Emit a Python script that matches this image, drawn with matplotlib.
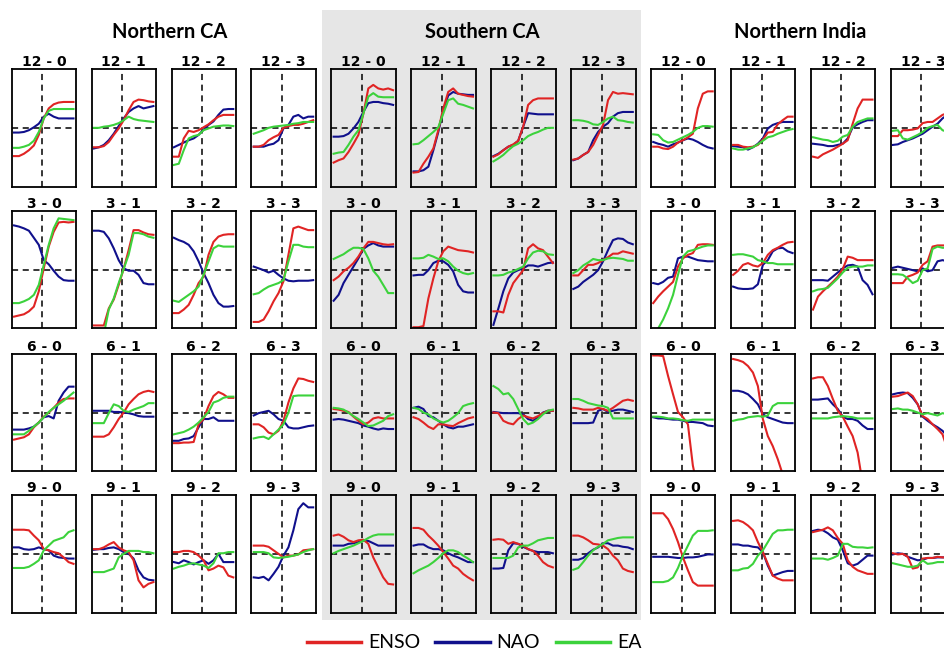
import matplotlib
matplotlib.use("Agg")
import matplotlib.pyplot as plt
from matplotlib.patches import Rectangle
from matplotlib.lines import Line2D
import numpy as np

regions = ["Northern CA", "Southern CA", "Northern India"]
row_labels = ["12", "3", "6", "9"]
col_labels = ["0", "1", "2", "3"]
series_names = ["ENSO", "NAO", "EA"]
x_vals = [-1.0, -0.833, -0.667, -0.5, -0.333, -0.167, 0.0, 0.167, 0.333, 0.5, 0.667, 0.833, 1.0]

# Panels are ordered 12-0, 12-1, 12-2, 12-3, 3-0, ..., 9-3
nca_enso = [
    [-0.48,-0.48,-0.44,-0.38,-0.30,-0.12,0.16,0.33,0.40,0.43,0.44,0.44,0.44],
    [-0.33,-0.33,-0.31,-0.24,-0.12,-0.01,0.13,0.30,0.44,0.48,0.47,0.45,0.44],
    [-0.49,-0.49,-0.18,-0.05,-0.07,-0.04,0.01,0.06,0.13,0.19,0.22,0.22,0.22],
    [-0.32,-0.32,-0.29,-0.21,-0.16,-0.12,0.0,0.03,0.05,0.05,0.07,0.10,0.13],
    [-0.80,-0.78,-0.76,-0.71,-0.63,-0.37,0.02,0.39,0.64,0.80,0.81,0.80,0.81],
    [-0.95,-0.95,-0.95,-0.66,-0.51,-0.26,0.01,0.33,0.67,0.67,0.63,0.60,0.59],
    [-0.74,-0.74,-0.68,-0.60,-0.43,-0.23,-0.12,0.25,0.47,0.56,0.59,0.60,0.60],
    [-0.89,-0.89,-0.85,-0.71,-0.54,-0.40,-0.20,0.25,0.70,0.73,0.70,0.67,0.67],
    [-0.46,-0.44,-0.42,-0.37,-0.25,-0.17,-0.07,0.0,0.08,0.17,0.23,0.24,0.24],
    [-0.41,-0.41,-0.41,-0.37,-0.25,-0.11,0.0,0.14,0.23,0.31,0.35,0.37,0.35],
    [-0.52,-0.52,-0.51,-0.51,-0.50,-0.20,-0.11,0.11,0.28,0.35,0.31,0.25,0.25],
    [-0.20,-0.20,-0.25,-0.34,-0.37,-0.31,-0.14,0.17,0.41,0.58,0.57,0.54,0.52],
    [0.41,0.41,0.41,0.40,0.31,0.23,0.08,0.06,0.03,0.01,-0.06,-0.14,-0.17],
    [0.08,0.08,0.11,0.16,0.20,0.11,0.06,0.03,-0.11,-0.45,-0.57,-0.51,-0.48],
    [0.03,0.03,0.05,0.05,0.03,-0.03,-0.11,-0.28,-0.25,-0.20,-0.23,-0.37,-0.40],
    [0.14,0.14,0.14,0.12,0.06,0.0,-0.06,-0.03,-0.03,-0.01,0.06,0.07,0.08],
]
nca_nao = [
    [-0.08,-0.08,-0.07,-0.04,0.01,0.07,0.19,0.24,0.19,0.16,0.16,0.16,0.16],
    [-0.35,-0.33,-0.29,-0.21,-0.10,0.03,0.16,0.27,0.33,0.37,0.33,0.35,0.37],
    [-0.33,-0.29,-0.25,-0.21,-0.18,-0.12,-0.03,0.05,0.11,0.22,0.31,0.32,0.32],
    [-0.32,-0.32,-0.32,-0.29,-0.27,-0.21,-0.01,0.05,0.19,0.22,0.16,0.19,0.19],
    [0.75,0.73,0.70,0.66,0.54,0.42,0.16,0.09,-0.02,-0.12,-0.18,-0.19,-0.19],
    [0.66,0.66,0.64,0.53,0.36,0.16,0.02,-0.02,-0.02,-0.09,-0.23,-0.25,-0.25],
    [0.54,0.50,0.47,0.42,0.31,0.14,-0.06,-0.23,-0.43,-0.57,-0.63,-0.63,-0.62],
    [0.05,0.02,-0.01,-0.05,-0.02,-0.09,-0.15,-0.19,-0.20,-0.19,-0.19,-0.19,-0.18],
    [-0.29,-0.29,-0.29,-0.27,-0.24,-0.17,-0.08,-0.06,-0.10,0.20,0.34,0.44,0.44],
    [0.03,0.03,0.03,0.03,0.01,0.01,0.0,-0.01,-0.03,-0.06,-0.07,-0.07,-0.07],
    [-0.48,-0.48,-0.45,-0.44,-0.40,-0.25,-0.11,-0.11,-0.08,-0.14,-0.14,-0.14,-0.14],
    [-0.05,-0.01,0.01,0.03,-0.03,-0.11,-0.14,-0.25,-0.27,-0.27,-0.25,-0.23,-0.22],
    [0.11,0.11,0.08,0.07,0.08,0.11,0.08,0.06,-0.03,-0.06,-0.07,-0.08,-0.08],
    [0.07,0.08,0.08,0.10,0.11,0.08,0.03,0.0,-0.08,-0.28,-0.40,-0.44,-0.45],
    [-0.14,-0.16,-0.11,-0.14,-0.18,-0.14,-0.11,-0.17,-0.11,0.0,-0.14,-0.14,-0.14],
    [-0.40,-0.41,-0.39,-0.45,-0.34,-0.22,-0.03,0.11,0.40,0.76,0.86,0.79,0.79],
]
nca_ea = [
    [-0.34,-0.34,-0.32,-0.29,-0.22,-0.07,0.16,0.29,0.32,0.32,0.32,0.32,0.32],
    [0.0,0.0,0.02,0.03,0.05,0.08,0.13,0.19,0.15,0.13,0.12,0.11,0.10],
    [-0.63,-0.61,-0.38,-0.18,-0.14,-0.12,-0.04,-0.01,0.02,0.03,0.04,0.04,0.03],
    [-0.10,-0.07,-0.04,0.0,0.02,0.03,0.04,0.05,0.07,0.08,0.10,0.10,0.10],
    [-0.57,-0.57,-0.54,-0.50,-0.43,-0.26,0.08,0.42,0.70,0.87,0.86,0.85,0.84],
    [-1.2,-1.2,-1.1,-0.68,-0.49,-0.23,0.01,0.25,0.62,0.62,0.60,0.56,0.54],
    [-0.53,-0.55,-0.49,-0.43,-0.37,-0.29,-0.09,0.14,0.36,0.41,0.39,0.39,0.39],
    [-0.42,-0.40,-0.34,-0.29,-0.26,-0.23,-0.18,0.14,0.42,0.42,0.39,0.38,0.38],
    [-0.37,-0.37,-0.37,-0.31,-0.24,-0.17,-0.08,0.01,0.08,0.14,0.20,0.27,0.34],
    [-0.18,-0.18,-0.18,-0.01,0.14,0.11,0.03,0.01,0.05,0.08,0.11,0.16,0.16],
    [-0.37,-0.35,-0.33,-0.29,-0.24,-0.17,-0.08,0.01,0.17,0.20,0.25,0.27,0.27],
    [-0.44,-0.42,-0.41,-0.45,-0.37,-0.29,-0.20,0.0,0.28,0.29,0.29,0.29,0.29],
    [-0.24,-0.24,-0.24,-0.22,-0.17,-0.11,0.06,0.14,0.22,0.25,0.28,0.37,0.40],
    [-0.31,-0.31,-0.31,-0.28,-0.25,-0.06,0.0,0.05,0.05,0.05,0.03,0.03,0.01],
    [-0.25,-0.22,-0.20,-0.17,-0.16,-0.18,-0.20,-0.24,-0.16,0.01,0.01,0.03,0.03],
    [0.03,0.03,0.03,0.01,-0.06,-0.07,-0.06,-0.05,-0.03,-0.01,0.03,0.06,0.08],
]

sca_enso = [
    [-0.59,-0.55,-0.52,-0.41,-0.27,-0.12,0.24,0.67,0.73,0.67,0.65,0.67,0.64],
    [-0.76,-0.75,-0.61,-0.49,-0.35,-0.04,0.33,0.61,0.67,0.58,0.56,0.54,0.53],
    [-0.49,-0.45,-0.38,-0.32,-0.28,-0.22,0.02,0.39,0.47,0.50,0.50,0.50,0.50],
    [-0.54,-0.52,-0.46,-0.41,-0.29,-0.12,0.05,0.47,0.61,0.58,0.59,0.58,0.57],
    [-0.18,-0.12,-0.03,0.03,0.11,0.22,0.36,0.47,0.47,0.45,0.43,0.42,0.43],
    [-0.98,-0.98,-0.96,-0.49,-0.15,0.14,0.31,0.39,0.36,0.33,0.32,0.31,0.29],
    [-0.71,-0.71,-0.73,-0.43,-0.23,-0.12,-0.01,0.36,0.43,0.36,0.33,0.22,0.11],
    [-0.10,-0.10,-0.01,0.08,0.08,0.11,0.16,0.21,0.27,0.27,0.31,0.29,0.27],
    [0.06,0.05,0.03,0.01,-0.07,-0.14,-0.20,-0.17,-0.10,-0.08,-0.10,-0.10,-0.10],
    [-0.08,-0.11,-0.17,-0.24,-0.28,-0.20,-0.20,-0.22,-0.23,-0.18,-0.14,-0.10,-0.08],
    [0.0,-0.01,-0.14,-0.18,-0.20,-0.11,-0.05,-0.08,-0.10,-0.06,-0.01,0.03,0.03],
    [0.08,0.07,0.05,0.05,0.05,0.08,0.06,0.03,0.08,0.14,0.20,0.22,0.20],
    [0.31,0.33,0.29,0.23,0.20,0.23,0.24,0.17,-0.06,-0.23,-0.40,-0.51,-0.52],
    [0.44,0.44,0.41,0.31,0.23,0.14,0.03,-0.08,-0.20,-0.25,-0.34,-0.40,-0.45],
    [0.24,0.25,0.24,0.17,0.20,0.17,0.14,0.08,0.05,-0.03,-0.14,-0.20,-0.23],
    [0.31,0.31,0.28,0.23,0.17,0.16,0.14,0.08,-0.03,-0.11,-0.25,-0.29,-0.31],
]
sca_nao = [
    [-0.15,-0.15,-0.14,-0.10,-0.01,0.10,0.27,0.42,0.44,0.44,0.42,0.41,0.39],
    [-0.74,-0.74,-0.72,-0.66,-0.38,-0.07,0.30,0.55,0.61,0.58,0.57,0.56,0.56],
    [-0.48,-0.44,-0.38,-0.32,-0.29,-0.22,0.02,0.25,0.24,0.23,0.23,0.23,0.23],
    [-0.55,-0.52,-0.46,-0.41,-0.21,-0.07,0.02,0.08,0.19,0.25,0.27,0.27,0.27],
    [-0.53,-0.43,-0.23,-0.09,0.05,0.19,0.35,0.41,0.45,0.41,0.39,0.39,0.39],
    [-0.10,-0.09,-0.09,-0.01,0.11,0.15,0.14,0.08,-0.03,-0.26,-0.37,-0.39,-0.39],
    [-0.94,-0.66,-0.37,-0.15,-0.05,-0.01,0.02,0.07,0.07,0.05,0.08,0.11,0.12],
    [-0.33,-0.29,-0.21,-0.15,-0.09,-0.01,0.14,0.33,0.50,0.53,0.52,0.46,0.43],
    [-0.12,-0.11,-0.12,-0.14,-0.16,-0.18,-0.22,-0.24,-0.27,-0.29,-0.27,-0.28,-0.28],
    [0.08,0.10,0.06,-0.06,-0.08,-0.14,-0.20,-0.25,-0.27,-0.24,-0.24,-0.22,-0.20],
    [0.01,0.0,-0.01,-0.01,-0.01,-0.01,-0.03,-0.11,-0.14,-0.08,0.0,0.03,0.03],
    [-0.18,-0.18,-0.18,-0.18,-0.17,0.03,0.06,0.01,0.03,0.05,0.05,0.03,0.01],
    [0.14,0.14,0.14,0.17,0.18,0.20,0.22,0.22,0.18,0.14,0.14,0.14,0.14],
    [0.14,0.16,0.16,0.11,0.08,0.08,0.06,0.01,-0.03,-0.06,-0.10,-0.14,-0.14],
    [-0.25,-0.25,-0.24,0.06,0.18,0.17,0.12,0.08,0.05,0.03,0.03,0.03,0.01],
    [-0.10,-0.10,-0.07,0.01,0.07,0.11,0.18,0.18,0.14,0.14,0.12,0.11,0.08],
]
sca_ea = [
    [-0.44,-0.42,-0.41,-0.29,-0.15,-0.04,0.24,0.53,0.59,0.53,0.52,0.52,0.52],
    [-0.28,-0.27,-0.21,-0.14,-0.07,0.01,0.24,0.47,0.50,0.41,0.39,0.36,0.33],
    [-0.57,-0.52,-0.46,-0.38,-0.31,-0.27,-0.21,-0.14,-0.10,-0.07,-0.03,0.0,0.0],
    [0.13,0.13,0.12,0.10,0.06,0.05,0.10,0.16,0.19,0.13,0.12,0.10,0.09],
    [0.18,0.22,0.26,0.32,0.37,0.37,0.35,0.19,-0.02,-0.12,-0.26,-0.40,-0.40],
    [0.19,0.19,0.20,0.25,0.22,0.18,0.19,0.14,0.05,-0.02,-0.06,-0.08,-0.06],
    [-0.10,-0.10,-0.09,-0.05,-0.03,0.01,0.05,0.19,0.29,0.32,0.31,0.26,0.25],
    [-0.06,-0.01,0.07,0.12,0.18,0.16,0.16,0.19,0.20,0.19,0.18,0.15,0.15],
    [0.08,0.07,0.05,0.0,-0.06,-0.11,-0.17,-0.23,-0.22,-0.18,-0.14,-0.06,-0.03],
    [0.08,0.06,0.0,-0.03,-0.10,-0.14,-0.17,-0.14,-0.08,-0.01,0.11,0.14,0.16],
    [0.45,0.40,0.31,0.33,0.23,0.06,-0.11,-0.20,-0.17,-0.11,-0.03,0.03,0.05],
    [0.23,0.23,0.20,0.16,0.14,0.12,0.11,0.08,-0.10,-0.10,-0.10,-0.10,-0.10],
    [0.01,0.05,0.08,0.11,0.14,0.18,0.22,0.27,0.31,0.33,0.33,0.33,0.33],
    [-0.33,-0.28,-0.24,-0.20,-0.14,-0.07,0.01,0.06,0.06,0.03,-0.03,-0.08,-0.14],
    [-0.07,-0.07,-0.07,-0.07,-0.03,0.11,0.14,0.14,0.18,0.23,0.25,0.27,0.27],
    [-0.27,-0.24,-0.14,-0.03,0.06,0.12,0.17,0.23,0.25,0.27,0.28,0.28,0.28],
]

ni_enso = [
    [-0.32,-0.32,-0.35,-0.36,-0.32,-0.25,-0.21,-0.16,-0.10,0.33,0.58,0.62,0.62],
    [-0.29,-0.29,-0.32,-0.33,-0.32,-0.29,-0.20,-0.08,-0.07,0.06,0.13,0.19,0.19],
    [-0.49,-0.51,-0.45,-0.41,-0.37,-0.32,-0.27,-0.21,0.07,0.33,0.48,0.48,0.48],
    [-0.14,-0.14,-0.04,-0.04,-0.03,-0.01,0.08,0.10,0.10,0.16,0.22,0.25,0.25],
    [-0.57,-0.46,-0.37,-0.29,-0.21,0.05,0.19,0.25,0.28,0.42,0.43,0.43,0.42],
    [-0.09,-0.02,0.08,0.11,0.07,0.05,0.11,0.25,0.33,0.37,0.42,0.46,0.47],
    [-0.68,-0.46,-0.37,-0.29,-0.21,-0.12,0.01,0.22,0.20,0.16,0.16,0.16,0.16],
    [-0.23,-0.23,-0.23,-0.12,-0.09,-0.05,0.08,0.14,0.39,0.41,0.41,0.41,0.41],
    [0.97,0.97,0.96,0.62,0.31,0.01,-0.08,-0.20,-0.90,-1.3,-1.3,-1.3,-1.3],
    [0.91,0.89,0.86,0.79,0.68,0.45,-0.11,-0.40,-0.57,-0.79,-1.05,-1.3,-1.3],
    [0.58,0.60,0.60,0.45,0.23,0.03,-0.07,-0.24,-0.40,-0.68,-1.2,-1.3,-1.3],
    [0.27,0.28,0.31,0.34,0.28,0.14,-0.06,-0.11,-0.20,-0.28,-0.37,-0.62,-0.90],
    [0.69,0.69,0.69,0.59,0.42,0.20,-0.06,-0.28,-0.48,-0.54,-0.54,-0.54,-0.54],
    [0.56,0.57,0.54,0.48,0.40,0.20,0.03,-0.17,-0.37,-0.42,-0.45,-0.45,-0.45],
    [0.37,0.39,0.41,0.45,0.40,0.27,0.17,-0.11,-0.22,-0.28,-0.31,-0.34,-0.34],
    [0.01,-0.01,0.0,-0.05,-0.25,-0.23,-0.08,-0.07,-0.07,-0.05,-0.06,-0.06,-0.06],
]
ni_nao = [
    [-0.24,-0.27,-0.29,-0.32,-0.28,-0.25,-0.21,-0.18,-0.20,-0.24,-0.29,-0.33,-0.35],
    [-0.31,-0.32,-0.33,-0.37,-0.33,-0.27,-0.18,-0.01,0.05,0.08,0.10,0.10,0.10],
    [-0.27,-0.28,-0.29,-0.31,-0.31,-0.29,-0.27,-0.18,0.01,0.06,0.10,0.13,0.13],
    [-0.29,-0.28,-0.24,-0.21,-0.18,-0.14,-0.10,-0.04,0.02,0.07,0.16,0.22,0.22],
    [-0.23,-0.25,-0.21,-0.14,-0.12,0.19,0.22,0.22,0.19,0.16,0.15,0.14,0.14],
    [-0.29,-0.32,-0.33,-0.33,-0.32,-0.25,0.08,0.16,0.31,0.36,0.37,0.31,0.28],
    [-0.18,-0.18,-0.18,-0.19,-0.12,-0.05,0.02,0.07,0.08,0.05,-0.18,-0.26,-0.42],
    [0.03,0.05,0.03,0.01,-0.01,-0.03,0.02,-0.03,-0.01,0.14,0.16,0.14,0.11],
    [-0.08,-0.10,-0.10,-0.11,-0.12,-0.12,-0.14,-0.16,-0.16,-0.17,-0.18,-0.22,-0.23],
    [0.37,0.37,0.35,0.31,0.23,0.14,-0.03,-0.08,-0.11,-0.14,-0.17,-0.18,-0.18],
    [0.22,0.22,0.23,0.24,0.14,0.06,-0.07,-0.11,-0.11,-0.14,-0.22,-0.28,-0.28],
    [0.31,0.33,0.34,0.33,0.25,0.14,-0.07,-0.14,-0.20,-0.25,-0.31,-0.40,-0.45],
    [-0.05,-0.05,-0.05,-0.05,-0.06,-0.07,-0.07,-0.06,-0.06,-0.05,-0.03,-0.01,-0.01],
    [0.16,0.16,0.14,0.14,0.12,0.11,0.03,-0.20,-0.37,-0.34,-0.31,-0.29,-0.29],
    [0.39,0.41,0.40,0.35,0.28,0.24,0.06,-0.16,-0.20,-0.17,-0.10,-0.03,-0.03],
    [-0.01,0.01,0.0,-0.05,-0.08,-0.11,-0.10,-0.07,-0.07,-0.06,-0.06,-0.06,-0.06],
]
ni_ea = [
    [-0.11,-0.12,-0.21,-0.25,-0.24,-0.20,-0.16,-0.12,-0.07,0.0,0.03,0.03,0.02],
    [-0.35,-0.37,-0.37,-0.35,-0.33,-0.28,-0.22,-0.16,-0.14,-0.10,-0.07,-0.04,-0.02],
    [-0.16,-0.18,-0.20,-0.21,-0.24,-0.22,-0.15,-0.12,0.02,0.10,0.13,0.16,0.16],
    [-0.05,-0.04,-0.18,-0.20,-0.16,-0.12,-0.07,0.0,0.03,0.05,-0.04,-0.07,-0.07],
    [-1.1,-1.0,-0.85,-0.66,-0.43,-0.09,0.22,0.31,0.33,0.36,0.39,0.41,0.41],
    [0.25,0.26,0.26,0.24,0.22,0.16,0.14,0.11,0.11,0.09,0.09,0.09,0.09],
    [-0.37,-0.34,-0.33,-0.31,-0.23,-0.15,-0.05,0.03,0.05,0.05,0.05,0.07,0.07],
    [-0.08,-0.08,-0.09,-0.15,-0.23,-0.19,-0.01,0.02,0.35,0.39,0.37,0.37,0.37],
    [-0.07,-0.07,-0.08,-0.10,-0.10,-0.11,-0.13,-0.14,-0.12,-0.12,-0.12,-0.12,-0.12],
    [-0.14,-0.12,-0.11,-0.08,-0.07,-0.06,-0.07,-0.05,0.11,0.16,0.16,0.16,0.16],
    [-0.10,-0.10,-0.10,-0.10,-0.08,-0.07,-0.06,-0.07,-0.08,-0.10,-0.10,-0.10,-0.10],
    [0.06,0.07,0.05,0.05,0.03,0.0,-0.03,-0.01,-0.03,-0.05,-0.01,-0.03,-0.03],
    [-0.48,-0.48,-0.48,-0.46,-0.40,-0.24,-0.03,0.14,0.31,0.39,0.39,0.39,0.40],
    [-0.28,-0.28,-0.25,-0.24,-0.17,-0.03,0.06,0.20,0.34,0.40,0.40,0.41,0.41],
    [-0.08,-0.08,-0.08,-0.10,-0.07,-0.03,0.17,0.17,0.12,0.11,0.11,0.10,0.11],
    [-0.16,-0.18,-0.20,-0.22,-0.22,-0.20,-0.11,-0.17,-0.16,-0.14,-0.14,-0.14,-0.14],
]

region_data = [
    {"ENSO": nca_enso, "NAO": nca_nao, "EA": nca_ea},
    {"ENSO": sca_enso, "NAO": sca_nao, "EA": sca_ea},
    {"ENSO": ni_enso, "NAO": ni_nao, "EA": ni_ea},
]

colors = {"ENSO": "#e02424", "NAO": "#10108c", "EA": "#3cd23c"}
draw_order = ["NAO", "ENSO", "EA"]

W, H = 944, 654
fig = plt.figure(figsize=(W / 100, H / 100), dpi=100)
fig.patch.set_facecolor("white")

gray = "#e6e6e6"
fig.patches.append(Rectangle((322 / W, 1 - 620 / H), (641 - 322) / W, (620 - 10) / H,
                             transform=fig.transFigure, facecolor=gray,
                             edgecolor="none", zorder=-10))

col_left0 = 11.7
col_step = 79.9
panel_w = 64.5
row_tops = [69.0, 210.7, 353.7, 495.0]
panel_h = 117.7

for r_i in range(3):
    for row in range(4):
        for col in range(4):
            gcol = r_i * 4 + col
            left = col_left0 + gcol * col_step
            top = row_tops[row]
            ax = fig.add_axes([left / W, 1 - (top + panel_h) / H, panel_w / W, panel_h / H])
            ax.set_facecolor(gray if r_i == 1 else "white")
            idx = row * 4 + col
            ax.axhline(0, color="black", lw=1.1, ls=(0, (4, 3)), zorder=1)
            ax.axvline(-0.045, color="black", lw=1.1, ls=(0, (4, 3)), zorder=1)
            for name in draw_order:
                ax.plot(x_vals, region_data[r_i][name][idx], color=colors[name],
                        lw=1.5, zorder=2)
            ax.set_xlim(-1.078, 1.091)
            ax.set_ylim(-1, 1)
            ax.set_xticks([])
            ax.set_yticks([])
            for sp in ax.spines.values():
                sp.set_linewidth(1.3)
                sp.set_color("black")
            ax.set_title(f"{row_labels[row]} - {col_labels[col]}", fontsize=10,
                         fontweight="bold", family="DejaVu Sans", pad=1.5)

region_centers = [170, 482, 800]
for name, cx in zip(regions, region_centers):
    fig.text(cx / W, 1 - 32 / H, name, ha="center", va="center",
             fontsize=14.5, fontweight="bold", family="Lato")

handles = [Line2D([0], [0], color=colors[n], lw=2.5) for n in series_names]
fig.legend(handles, series_names, loc="center", bbox_to_anchor=(474 / W, 1 - 643 / H),
           ncol=3, frameon=False, handlelength=2.8, columnspacing=0.8, handletextpad=0.35,
           prop={"family": "Lato", "size": 14})

fig.savefig("out.png", dpi=100)
